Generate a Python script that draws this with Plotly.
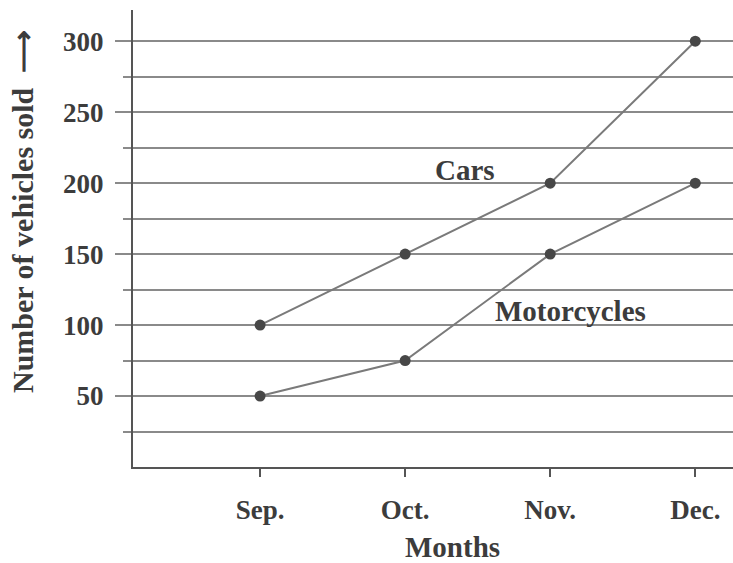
import plotly.graph_objects as go

months = ["Sep.", "Oct.", "Nov.", "Dec."]
cars = [100, 150, 200, 300]
motorcycles = [50, 75, 150, 200]
y_ticks = [50, 100, 150, 200, 250, 300]
y_minor = [25, 75, 125, 175, 225, 275]

FONT = "Liberation Serif"
TXT = "#3c3c3c"
LINE = "#7a7a7a"
GRID = "#8a8a8a"
MARK = "#474747"

# plot area in pixels
L, R, T, B = 133, 0, 10, 96
W, H = 733, 563
PW, PH = W - L - R, H - T - B

fig = go.Figure()
for name, vals in [("Cars", cars), ("Motorcycles", motorcycles)]:
    fig.add_trace(go.Scatter(
        x=months, y=vals, mode="lines+markers", name=name,
        line=dict(color=LINE, width=2),
        marker=dict(color=MARK, size=11),
        showlegend=False, cliponaxis=False,
    ))

fig.add_annotation(x=1.41, y=209, xref="x", yref="y", text="<b>Cars</b>",
                   showarrow=False, font=dict(family=FONT, size=29, color=TXT))
fig.add_annotation(x=2.14, y=110, xref="x", yref="y", text="<b>Motorcycles</b>",
                   showarrow=False, font=dict(family=FONT, size=29, color=TXT))
fig.add_annotation(xref="paper", yref="paper",
                   x=(22 - L) / PW, y=(H - B - 212) / PH,
                   text="<b>Number of vehicles sold  ⟶</b>",
                   showarrow=False, textangle=-90, xanchor="center", yanchor="middle",
                   font=dict(family=FONT, size=30, color=TXT))
fig.add_annotation(xref="paper", yref="paper",
                   x=(452 - L) / PW, y=(H - B - 547) / PH,
                   text="<b>Months</b>", showarrow=False,
                   xanchor="center", yanchor="middle",
                   font=dict(family=FONT, size=29, color=TXT))

fig.update_layout(
    width=W, height=H,
    margin=dict(l=L, r=R, t=T, b=B, autoexpand=False),
    paper_bgcolor="white", plot_bgcolor="white",
    font=dict(family=FONT, size=27, color=TXT),
    xaxis=dict(
        type="category", range=[-0.876, 3.26],
        showgrid=False, showline=True, linecolor="#555", linewidth=2,
        ticks="outside", ticklen=8, tickwidth=2, tickcolor="#555",
        tickfont=dict(family=FONT, size=27, color=TXT),
        tickprefix="<b>", ticksuffix="</b>",
        ticklabelstandoff=10,
        zeroline=False,
    ),
    yaxis=dict(
        range=[0, 322], tickvals=y_ticks,
        ticktext=[f"<b>{v}</b>" for v in y_ticks],
        showgrid=True, gridcolor=GRID, gridwidth=2,
        showline=True, linecolor="#555", linewidth=2,
        ticks="outside", ticklen=16, tickwidth=2, tickcolor=GRID,
        tickfont=dict(family=FONT, size=27, color=TXT),
        ticklabelstandoff=6,
        minor=dict(tickvals=y_minor, showgrid=True,
                   gridcolor=GRID, gridwidth=2, ticks="outside", ticklen=8,
                   tickcolor=GRID, tickwidth=2),
        zeroline=False,
    ),
)

fig.write_html("out.html", config={"displayModeBar": False},
               post_script="document.body.style.margin='0';")
